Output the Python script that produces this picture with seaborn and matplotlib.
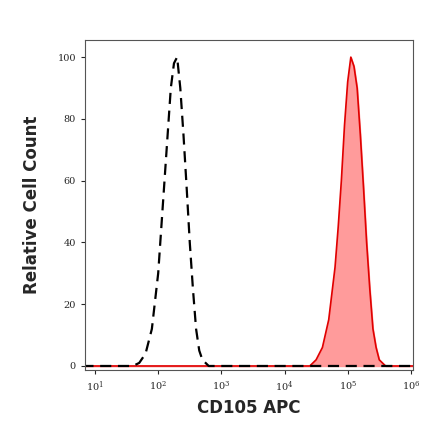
import numpy as np
import pandas as pd
import matplotlib
matplotlib.use("Agg")
import matplotlib.pyplot as plt
import seaborn as sns

iso_log = [0.8,1.5,1.6,1.7,1.8,1.9,2.0,2.05,2.1,2.15,2.2,2.25,2.3,2.35,2.4,2.45,2.5,2.55,2.6,2.65,2.7,2.8,3.0,6.1]
iso_cnt = [0,0,0,1,4,12,30,45,60,75,90,98,100,90,75,58,40,25,12,5,2,0,0,0]
cd_log = [0.8,4.4,4.5,4.6,4.7,4.8,4.85,4.9,4.95,5.0,5.05,5.1,5.15,5.2,5.25,5.3,5.35,5.4,5.45,5.5,5.6,6.1]
cd_cnt = [0,0,2,6,15,32,45,60,78,92,100,97,90,75,58,40,25,12,6,2,0,0]

sns.set_style("white")
fig = plt.figure(figsize=(4.4,4.41), dpi=100)
ax = fig.add_axes([0.193, 0.161, 0.745, 0.748])
iso = pd.DataFrame({"x":10**np.array(iso_log),"y":iso_cnt})
cd = pd.DataFrame({"x":10**np.array(cd_log),"y":cd_cnt})
sns.lineplot(data=cd, x="x", y="y", ax=ax, color="#e00000", lw=1.2)
ax.fill_between(cd["x"], cd["y"], color="#ff9090", alpha=0.9)
sns.lineplot(data=iso, x="x", y="y", ax=ax, color="black", lw=1.6, linestyle=(0,(5,3)))
ax.set_xscale("log")
ax.set_xlim(10**0.84, 10**6.03)
ax.set_ylim(-1.3, 105.5)
ax.set_xticks([10**i for i in range(1,7)])
ax.set_yticks([0,20,40,60,80,100])
ax.tick_params(labelsize=7, length=3, direction="out", left=True, bottom=True)
for l in ax.get_yticklabels()+ax.get_xticklabels():
    l.set_family("DejaVu Serif")
ax.set_xlabel("CD105 APC", fontsize=12, fontweight="bold")
ax.set_ylabel("Relative Cell Count", fontsize=12, fontweight="bold", labelpad=12)
for s in ax.spines.values():
    s.set_color("#555555"); s.set_linewidth(0.8)
fig.savefig("out.png", dpi=100)
